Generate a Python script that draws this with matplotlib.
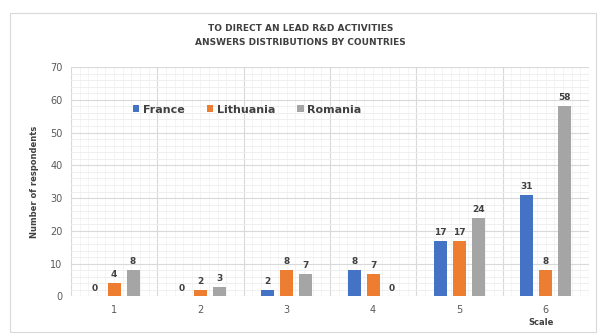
import matplotlib.pyplot as plt
import numpy as np
from matplotlib.patches import Rectangle
from matplotlib.ticker import MultipleLocator

# Data
scale = ['1', '2', '3', '4', '5', '6']
france = [0, 0, 2, 8, 17, 31]
lithuania = [4, 2, 8, 7, 17, 8]
romania = [8, 3, 7, 0, 24, 58]

series = [('France', france, '#4472C4'),
          ('Lithuania', lithuania, '#ED7D31'),
          ('Romania', romania, '#A5A5A5')]

fig = plt.figure(figsize=(6.01, 3.35), dpi=100)
fig.patches.append(Rectangle((0.017, 0.01), 0.975, 0.95, transform=fig.transFigure,
                             fill=False, edgecolor='#D9D9D9', linewidth=0.8))
ax = fig.add_axes([0.118, 0.115, 0.862, 0.685])

x = np.arange(len(scale))
width = 0.15
offset = 0.22
for i, (name, vals, color) in enumerate(series):
    pos = x + (i - 1) * offset
    ax.bar(pos, vals, width=width, color=color, label=name, zorder=3)
    for p, v in zip(pos, vals):
        ax.text(p, v + 1.2, str(v), ha='center', va='bottom', fontsize=6.5,
                fontweight='bold', color='#404040', zorder=4)

ax.set_xlim(-0.5, len(scale) - 0.5)
ax.set_ylim(0, 70)
ax.set_xticks(x)
ax.set_xticklabels(scale)
ax.yaxis.set_major_locator(MultipleLocator(10))
ax.yaxis.set_minor_locator(MultipleLocator(2))
ax.set_xticks(np.arange(-0.5, len(scale), 1), minor=True)
ax.grid(which='major', axis='y', color='#D9D9D9', linewidth=0.8, zorder=0)
ax.grid(which='minor', axis='y', color='#EDEDED', linewidth=0.6, zorder=0)
ax.grid(which='minor', axis='x', color='#D9D9D9', linewidth=0.8, zorder=0)
# fine vertical minor grid
for xv in np.arange(-0.5, len(scale) - 0.5, 0.1):
    ax.axvline(xv, color='#F0F0F0', linewidth=0.5, zorder=0)

for s in ax.spines.values():
    s.set_visible(False)
ax.tick_params(axis='both', which='both', length=0, labelsize=7, colors='#595959', pad=6)

ax.set_ylabel('Number of respondents', fontsize=6, fontweight='bold', color='#404040', labelpad=8)
fig.text(0.9, 0.03, 'Scale', fontsize=6, fontweight='bold', color='#404040', ha='center')

fig.text(0.5, 0.895, 'TO DIRECT AN LEAD R&D ACTIVITIES\nANSWERS DISTRIBUTIONS BY COUNTRIES',
         ha='center', va='center', fontsize=6.5, fontweight='bold', color='#404040',
         linespacing=1.7)

leg = ax.legend(loc='upper left', bbox_to_anchor=(0.1, 0.88), ncol=3, frameon=False,
                handlelength=0.6, handleheight=0.6, columnspacing=2.0,
                handletextpad=0.3, prop={'weight': 'bold', 'size': 8})
for t in leg.get_texts():
    t.set_color('#404040')

plt.savefig('out.png', dpi=100)
